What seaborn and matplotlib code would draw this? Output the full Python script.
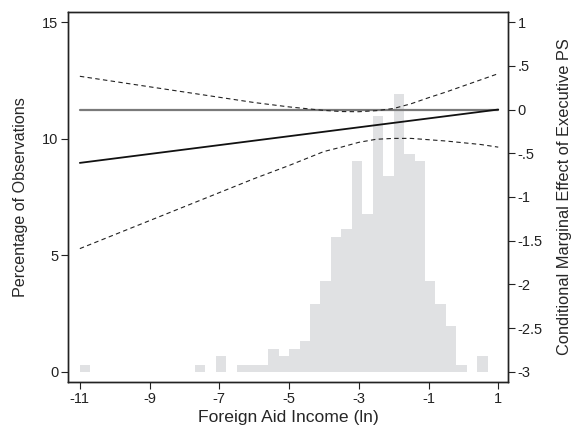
import numpy as np
import pandas as pd
import matplotlib
matplotlib.use('Agg')
import matplotlib.pyplot as plt
import seaborn as sns

# histogram of foreign aid income (ln), 40 bins of 0.3 from -11
bin_edges = [round(-11 + 0.3 * k, 2) for k in range(41)]
pct_obs = [0.31, 0, 0, 0, 0, 0, 0, 0, 0, 0,
           0, 0.31, 0, 0.67, 0, 0.31, 0.31, 0.31, 0.98, 0.67,
           0.98, 1.31, 2.92, 3.88, 5.80, 6.13, 9.03, 6.79, 10.97, 8.40,
           11.92, 9.34, 9.03, 3.88, 2.92, 1.95, 0.31, 0, 0.67, 0]

# conditional marginal effect and 95% CI
x_effect = [-11, 1]
effect = [-0.61, 0.0]
x_ci = [-11, -10, -9, -8, -7, -6, -5, -4, -3.5, -3, -2.5, -2, -1.5, -1, -0.5, 0, 0.5, 1]
upper = [0.38, 0.32, 0.26, 0.20, 0.14, 0.08, 0.03, -0.01, -0.023, -0.025, -0.013, 0.012,
         0.066, 0.135, 0.20, 0.27, 0.34, 0.41]
lower = [-1.59, -1.43, -1.27, -1.11, -0.95, -0.79, -0.64, -0.48, -0.43, -0.375, -0.34, -0.33,
         -0.33, -0.345, -0.36, -0.38, -0.40, -0.43]

sns.set_style('ticks')
plt.rcParams['font.family'] = ['Liberation Sans', 'DejaVu Sans']
plt.rcParams['axes.unicode_minus'] = False

fig = plt.figure(figsize=(5.74, 4.30), dpi=100)
ax = fig.add_axes([68/574, 48/430, 440/574, 370/430])

centers = [(bin_edges[i] + bin_edges[i + 1]) / 2 for i in range(40)]
hist = pd.DataFrame({'x': centers, 'pct': pct_obs})
sns.histplot(data=hist, x='x', weights='pct', bins=bin_edges, ax=ax,
             color='#e0e1e3', alpha=1, edgecolor='none', linewidth=0)

ax.set_xlim(-11.34, 1.28)
ax.set_ylim(-0.43, 15.43)
ax.set_xticks([-11, -9, -7, -5, -3, -1, 1])
ax.set_yticks([0, 5, 10, 15])
ax.set_xlabel('Foreign Aid Income (ln)', fontsize=12.6, labelpad=3)
ax.set_ylabel('Percentage of Observations', fontsize=11.6, labelpad=10)

ax2 = ax.twinx()
sns.lineplot(x=[-11, 1], y=[0, 0], ax=ax2, color='#7a7a7a', linewidth=1.6)
sns.lineplot(x=x_effect, y=effect, ax=ax2, color='#111111', linewidth=1.3)
sns.lineplot(x=x_ci, y=upper, ax=ax2, color='#222222', linewidth=0.8, linestyle=(0, (4, 3)))
sns.lineplot(x=x_ci, y=lower, ax=ax2, color='#222222', linewidth=0.8, linestyle=(0, (4, 3)))
ax2.set_ylim(-3.115, 1.115)
ax2.set_yticks([1, 0.5, 0, -0.5, -1, -1.5, -2, -2.5, -3])
ax2.set_yticklabels(['1', '.5', '0', '-.5', '-1', '-1.5', '-2', '-2.5', '-3'])
ax2.set_ylabel('Conditional Marginal Effect of Executive PS', fontsize=11.8, labelpad=10)

for a in (ax, ax2):
    for s in a.spines.values():
        s.set_visible(True)
        s.set_linewidth(1.0)
        s.set_color('#222222')
    a.tick_params(length=5, width=0.8, color='#222222', labelsize=10.5, pad=2,
                  labelcolor='#222222')

fig.savefig('out.png', dpi=100)
